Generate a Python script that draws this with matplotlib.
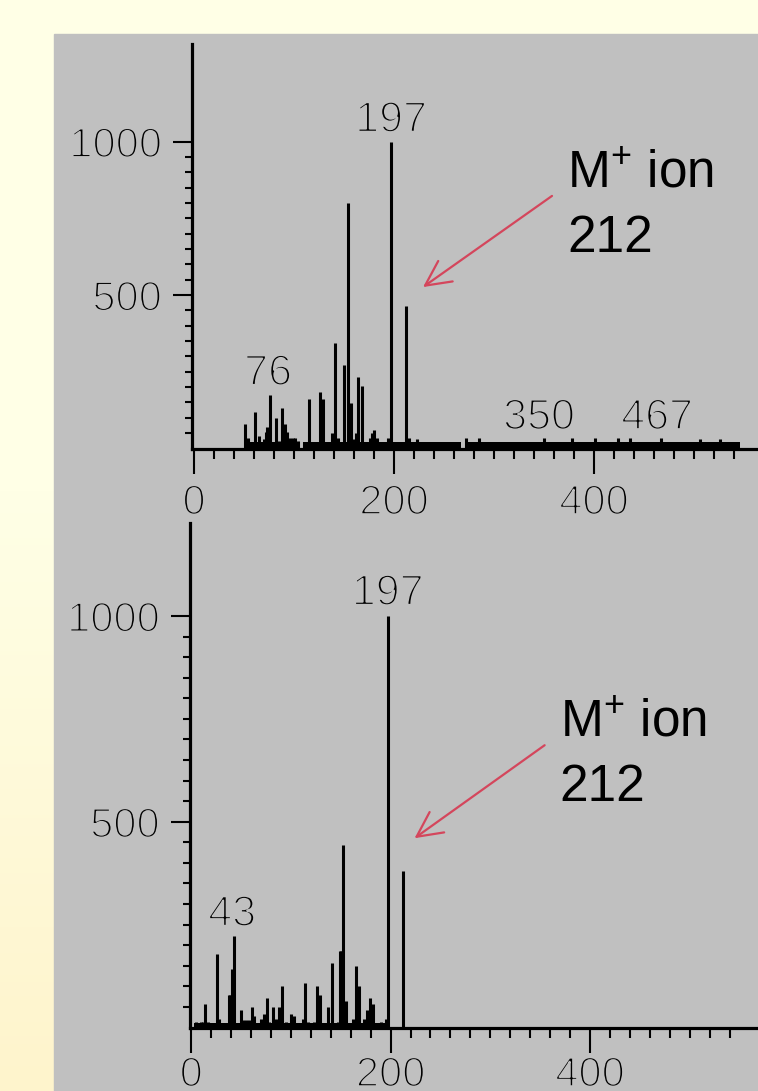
import numpy as np
import matplotlib
matplotlib.use("Agg")
import matplotlib.pyplot as plt
from matplotlib import patheffects, font_manager
from matplotlib.patches import Rectangle
from matplotlib.ticker import FixedLocator

# ---- data (m/z, relative intensity) ----
top_mz = [51, 54, 61, 65, 70, 72, 73, 76, 79, 82, 85, 88, 91, 93, 96, 99, 101, 104, 110, 115,
          121, 124, 126, 129, 138, 141, 144, 150, 154, 157, 159, 162, 164, 168, 174, 176, 178, 180, 183, 190,
          194, 197, 212, 215, 223, 272, 285, 350, 378, 401, 424, 436, 467, 506, 526]
top_int = [80, 33, 120, 41, 30, 55, 71, 174, 22, 100, 25, 131, 80, 55, 33, 33, 33, 25, 22, 160,
           22, 22, 185, 160, 52, 343, 33, 272, 800, 149, 30, 52, 234, 204, 22, 33, 52, 60, 33, 22,
           33, 1000, 464, 33, 30, 33, 33, 35, 33, 33, 33, 33, 35, 30, 30]
top_noise_start = [50, 109, 272]
top_noise_end = [104, 267, 546]
top_noise_level = [20, 20, 20]
top_peak_labels = ["197", "76", "350", "467"]

bot_mz = [5, 10, 12, 14, 17, 26, 28, 38, 39, 41, 43, 50, 52, 55, 58, 61, 63, 70, 73, 76,
          78, 82, 85, 88, 91, 95, 100, 103, 112, 114, 117, 123, 126, 129, 137, 141, 147, 149, 150, 152,
          155, 162, 165, 168, 173, 176, 179, 182, 190, 195, 197, 212]
bot_int = [13, 13, 13, 57, 13, 179, 21, 79, 79, 142, 222, 42, 18, 18, 18, 51, 29, 21, 34, 72,
           13, 51, 21, 51, 102, 13, 34, 29, 21, 107, 13, 13, 101, 79, 51, 156, 13, 186, 186, 443,
           65, 21, 149, 101, 21, 42, 72, 57, 13, 21, 1000, 380]
bot_noise_start = [3]
bot_noise_end = [196]
bot_noise_level = [10]
bot_peak_labels = ["197", "43"]

x_major = [0, 200, 400]
x_minor = list(range(0, 541, 20))
y_major = [500, 1000]
y_minor = [v for v in range(50, 1000, 50) if v != 500]

# ---- figure setup ----
W, H, DPI = 758, 1091, 100
PANEL = "#c0c0c0"
ARROW = "#d4465c"

names = {f.name for f in font_manager.fontManager.ttflist}
NUM_FONT = "Liberation Sans Narrow" if "Liberation Sans Narrow" in names else "Liberation Sans"
TXT_FONT = ["Liberation Sans", "DejaVu Sans"]
plt.rcParams["mathtext.fontset"] = "custom"
plt.rcParams["mathtext.rm"] = "Liberation Sans"

# erode the glyphs a little so the digits look thin like the instrument font
thin = [patheffects.Stroke(linewidth=1.5, foreground=PANEL)]


def px_box(left, top, right, bottom):
    return [left / W, 1 - bottom / H, (right - left) / W, (bottom - top) / H]


fig = plt.figure(figsize=(W / DPI, H / DPI), dpi=DPI)

# yellow slide background with a soft gradient toward the bottom
bg = fig.add_axes([0, 0, 1, 1])
bg.axis("off")
t = np.linspace(0, 1, 300)
w = np.clip((t - 0.45) / 0.55, 0, 1)[:, None]
c_top = np.array([255, 255, 230]) / 255
c_bot = np.array([254, 244, 204]) / 255
grad = (c_top + (c_bot - c_top) * w)[:, None, :]
bg.imshow(grad, aspect="auto", extent=[0, 1, 0, 1])
bg.add_patch(Rectangle((54 / W, 0), 1, 1 - 34 / H, color=PANEL, transform=bg.transAxes))
bg.set_xlim(0, 1)
bg.set_ylim(0, 1)


def spectrum(box, xlim, ylim, mz, inten, n_lo, n_hi, n_lvl, xpad):
    ax = fig.add_axes(px_box(*box))
    ax.set_facecolor("none")
    ax.vlines(mz, 0, inten, color="black", lw=2.2)
    for a, b, lvl in zip(n_lo, n_hi, n_lvl):
        ax.fill_between([a, b], 0, lvl, color="black", lw=0)
    ax.set_xlim(*xlim)
    ax.set_ylim(*ylim)
    for s in ["top", "right"]:
        ax.spines[s].set_visible(False)
    for s in ["left", "bottom"]:
        ax.spines[s].set_linewidth(2.3)
    ax.set_xticks(x_major, labels=[str(v) for v in x_major], fontsize=30,
                  family=NUM_FONT, path_effects=thin)
    ax.set_yticks(y_major, labels=[str(v) for v in y_major], fontsize=30,
                  family=NUM_FONT, path_effects=thin)
    ax.xaxis.set_minor_locator(FixedLocator(x_minor))
    ax.yaxis.set_minor_locator(FixedLocator(y_minor))
    ax.tick_params(axis="x", which="major", length=18, width=1.5, pad=xpad)
    ax.tick_params(axis="x", which="minor", length=7, width=1.5)
    ax.tick_params(axis="y", which="major", length=13.5, width=1.5, pad=8)
    ax.tick_params(axis="y", which="minor", length=5, width=1.5)
    return ax


ax1 = spectrum((191.7, 44, 758, 448.5), (-2.3, 564), (0, 1318),
               top_mz, top_int, top_noise_start, top_noise_end, top_noise_level, 7)
ax2 = spectrum((189.5, 523, 758, 1027.5), (-1.7, 568.5), (0, 1226),
               bot_mz, bot_int, bot_noise_start, bot_noise_end, bot_noise_level, 2)

# peak labels
for s, x, y in zip(top_peak_labels, [197, 74, 345, 463], [1032, 207, 63, 63]):
    ax1.text(x, y, s, ha="center", va="baseline", fontsize=31, family=NUM_FONT, path_effects=thin)
for s, x, y in zip(bot_peak_labels, [197, 41], [1027, 247]):
    ax2.text(x, y, s, ha="center", va="baseline", fontsize=31, family=NUM_FONT, path_effects=thin)

# molecular ion call-outs
arrow = dict(arrowstyle="->,head_length=0.4,head_width=0.2", color=ARROW, lw=1.6,
             mutation_scale=45, shrinkA=0, shrinkB=0)
ax1.annotate("", xy=(229, 526), xytext=(358, 823), arrowprops=arrow)
ax1.text(373, 849, r"M$^{+}$ ion", fontsize=37, family=TXT_FONT, va="baseline")
ax1.text(373, 640, "212", fontsize=37, family=TXT_FONT, va="baseline")

ax2.annotate("", xy=(224, 460), xytext=(354.5, 686), arrowprops=arrow)
ax2.text(369.5, 706, r"M$^{+}$ ion", fontsize=37, family=TXT_FONT, va="baseline")
ax2.text(369.5, 550, "212", fontsize=37, family=TXT_FONT, va="baseline")

fig.savefig("out.png", dpi=DPI)
